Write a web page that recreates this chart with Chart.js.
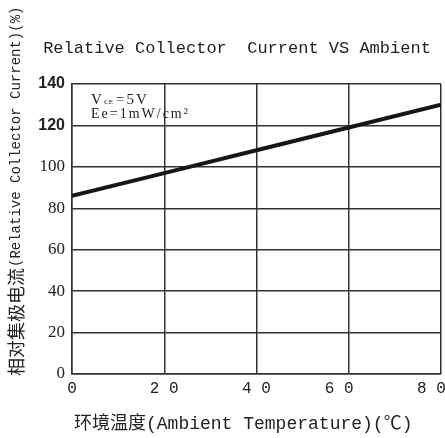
<!DOCTYPE html>
<html>
<head>
<meta charset="utf-8">
<script src="https://cdn.jsdelivr.net/npm/chart.js@4.4.0/dist/chart.umd.min.js"></script>
<style>
  body { margin: 0; background: #fff; }
  canvas { display: block; }
</style>
</head>
<body>
<canvas id="chart" width="445" height="438"></canvas>
<script>
// ambient temperature (°C) and relative collector current (%)
const temps = [0, 20, 40, 60, 80];
const current = [86, 97, 108, 119, 130];
const xTickLabels = ['0', '2 0', '4 0', '6 0  ', '8 0  '];
const yTickLabels = ['0', '20', '40', '60', '80', '100', '120', '140'];

const titleText = 'Relative Collector  Current VS Ambient';
const xTitle = '环境温度(Ambient Temperature)(℃)';
const yTitleCn = '相对集极电流';
const yTitleEn = '(Relative Collector Current)(%)';

const ink = '#222';
const gridColour = '#333';

// texts that sit outside the axes
const chartText = {
    id: 'chartText',
    afterDraw(chart) {
        const ctx = chart.ctx;
        ctx.save();
        ctx.fillStyle = ink;

        ctx.font = "17px 'Liberation Mono'";
        ctx.textAlign = 'center';
        ctx.textBaseline = 'middle';
        ctx.fillText(titleText, 237, 48);

        ctx.textAlign = 'left';
        ctx.font = "18px 'Liberation Mono', 'Noto Sans CJK SC'";
        ctx.fillText(xTitle, 74, 424);

        // y title, bottom to top
        ctx.save();
        ctx.translate(16, 376);
        ctx.rotate(-Math.PI / 2);
        ctx.font = "18px 'Noto Sans CJK SC'";
        ctx.fillText(yTitleCn, 0, 0);
        const w = ctx.measureText(yTitleCn).width;
        ctx.font = "14px 'Liberation Mono'";
        ctx.fillText(yTitleEn, w + 1, 0);
        ctx.restore();

        // conditions note in the top-left cell
        ctx.textBaseline = 'alphabetic';
        ctx.font = "15px 'Liberation Serif'";
        ctx.fillText('V', 91, 104);
        ctx.font = "7px 'Liberation Serif'";
        ctx.fillText('CE', 104, 104);
        ctx.letterSpacing = '2px';
        ctx.font = "15px 'Liberation Serif'";
        ctx.fillText('=5V', 116, 104);
        ctx.font = "14px 'Liberation Serif'";
        ctx.fillText('Ee=1mW/cm²', 91, 118);
        ctx.restore();
    }
};

new Chart(document.getElementById('chart'), {
    type: 'line',
    data: {
        labels: temps,
        datasets: [{
            data: temps.map((t, i) => ({ x: t, y: current[i] })),
            borderColor: '#161616',
            borderWidth: 4,
            pointRadius: 0,
            tension: 0,
            fill: false
        }]
    },
    options: {
        responsive: false,
        animation: false,
        layout: { padding: { top: 84, right: 4, bottom: 0, left: 0 } },
        plugins: {
            legend: { display: false },
            tooltip: { enabled: false }
        },
        scales: {
            x: {
                type: 'linear',
                min: 0,
                max: 80,
                afterFit: (scale) => {
                    scale.height = 64;
                    scale.paddingLeft = 0;
                    scale.paddingRight = 0;
                },
                ticks: {
                    stepSize: 20,
                    padding: 5,
                    color: ink,
                    font: { family: 'Liberation Mono', size: 16 },
                    callback: (v) => xTickLabels[temps.indexOf(v)]
                },
                grid: { color: gridColour, lineWidth: 1.5, drawTicks: false },
                border: { color: gridColour, width: 1.5 }
            },
            y: {
                min: 0,
                max: 140,
                afterFit: (scale) => { scale.width = 72; },
                ticks: {
                    stepSize: 20,
                    padding: 7,
                    color: ink,
                    font: (c) => c.tick && c.tick.value >= 120
                        ? { family: 'Liberation Sans', size: 16, weight: 'bold' }
                        : { family: 'Liberation Serif', size: 17 },
                    callback: (v) => yTickLabels[v / 20]
                },
                grid: { color: gridColour, lineWidth: 1.5, drawTicks: false },
                border: { color: gridColour, width: 1.5 }
            }
        }
    },
    plugins: [chartText]
});
</script>
</body>
</html>
